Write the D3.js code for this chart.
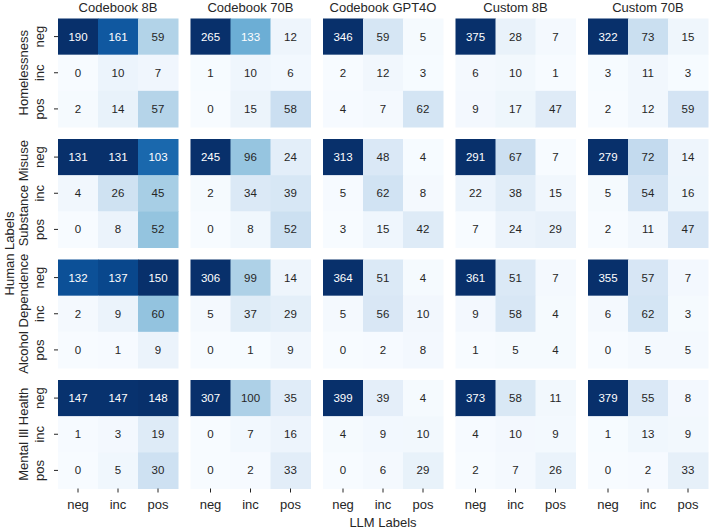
<!DOCTYPE html>
<html>
<head>
<meta charset="utf-8">
<script src="https://cdn.jsdelivr.net/npm/d3@7"></script>
<style>
  body { margin: 0; background: #fff; }
  text { font-family: "Liberation Sans", Arial, sans-serif; }
</style>
</head>
<body>
<div id="chart"></div>
<script>
// labels
var labels = ["neg", "inc", "pos"];
var models = ["Codebook 8B", "Codebook 70B", "Codebook GPT4O", "Custom 8B", "Custom 70B"];
var topics = ["Homelessness", "Substance Misuse", "Alcohol Dependence", "Mental Ill Health"];

// confusion matrices, rows = human label, cols = LLM label, one per model
var homelessness = [
  [[190, 161, 59], [0, 10, 7], [2, 14, 57]],
  [[265, 133, 12], [1, 10, 6], [0, 15, 58]],
  [[346, 59, 5], [2, 12, 3], [4, 7, 62]],
  [[375, 28, 7], [6, 10, 1], [9, 17, 47]],
  [[322, 73, 15], [3, 11, 3], [2, 12, 59]]
];
var substance = [
  [[131, 131, 103], [4, 26, 45], [0, 8, 52]],
  [[245, 96, 24], [2, 34, 39], [0, 8, 52]],
  [[313, 48, 4], [5, 62, 8], [3, 15, 42]],
  [[291, 67, 7], [22, 38, 15], [7, 24, 29]],
  [[279, 72, 14], [5, 54, 16], [2, 11, 47]]
];
var alcohol = [
  [[132, 137, 150], [2, 9, 60], [0, 1, 9]],
  [[306, 99, 14], [5, 37, 29], [0, 1, 9]],
  [[364, 51, 4], [5, 56, 10], [0, 2, 8]],
  [[361, 51, 7], [9, 58, 4], [1, 5, 4]],
  [[355, 57, 7], [6, 62, 3], [0, 5, 5]]
];
var mental = [
  [[147, 147, 148], [1, 3, 19], [0, 5, 30]],
  [[307, 100, 35], [0, 7, 16], [0, 2, 33]],
  [[399, 39, 4], [4, 9, 10], [0, 6, 29]],
  [[373, 58, 11], [4, 10, 9], [2, 7, 26]],
  [[379, 55, 8], [1, 13, 9], [0, 2, 33]]
];
var allData = [homelessness, substance, alcohol, mental];

var svgWidth = 709;
var svgHeight = 531;
var marginLeft = 58, marginTop = 18.5;
var panelW = 120, panelH = 108.5;
var gapX = 12.5, gapY = 12;

var svg = d3.select("#chart").append("svg")
  .attr("width", svgWidth)
  .attr("height", svgHeight);

// panel scales
var colScale = d3.scaleBand().domain(d3.range(models.length))
  .range([marginLeft, marginLeft + models.length * panelW + (models.length - 1) * gapX])
  .paddingInner(gapX / (panelW + gapX));
var rowScale = d3.scaleBand().domain(d3.range(topics.length))
  .range([marginTop, marginTop + topics.length * panelH + (topics.length - 1) * gapY])
  .paddingInner(gapY / (panelH + gapY));

var x = d3.scaleBand().domain(labels).range([0, panelW]);
var y = d3.scaleBand().domain(labels).range([0, panelH]);

// seaborn-style text colour from luminance
function textColor(c) {
  var rgb = d3.rgb(c);
  var lin = [rgb.r, rgb.g, rgb.b].map(function(v) {
    v = v / 255;
    return v <= 0.03928 ? v / 12.92 : Math.pow((v + 0.055) / 1.055, 2.4);
  });
  var lum = 0.2126 * lin[0] + 0.7152 * lin[1] + 0.0722 * lin[2];
  return lum > 0.408 ? "#262626" : "#ffffff";
}

allData.forEach(function(topicData, ti) {
  topicData.forEach(function(mat, mi) {
    var flat = d3.merge(mat);
    var color = d3.scaleSequential(d3.interpolateBlues)
      .domain([d3.min(flat), d3.max(flat)]);

    var g = svg.append("g")
      .attr("transform", `translate(${colScale(mi)}, ${rowScale(ti)})`);

    var cells = [];
    mat.forEach(function(row, r) {
      row.forEach(function(v, c) {
        cells.push({ r: labels[r], c: labels[c], v: v });
      });
    });

    g.selectAll("rect")
      .data(cells)
      .enter()
      .append("rect")
      .attr("x", d => x(d.c))
      .attr("y", d => y(d.r))
      .attr("width", x.bandwidth() + 0.5)
      .attr("height", y.bandwidth() + 0.5)
      .attr("fill", d => color(d.v));

    g.selectAll("text.val")
      .data(cells)
      .enter()
      .append("text")
      .attr("class", "val")
      .attr("x", d => x(d.c) + x.bandwidth() / 2)
      .attr("y", d => y(d.r) + y.bandwidth() / 2)
      .attr("dy", "0.35em")
      .attr("text-anchor", "middle")
      .attr("font-size", 11.5)
      .attr("fill", d => textColor(color(d.v)))
      .text(d => d.v);

    // column titles
    if (ti === 0) {
      g.append("text")
        .attr("x", panelW / 2)
        .attr("y", -7)
        .attr("text-anchor", "middle")
        .attr("font-size", 13)
        .attr("fill", "#262626")
        .text(models[mi]);
    }

    // y axis on first column
    if (mi === 0) {
      var yAxis = g.append("g").call(d3.axisLeft(y).tickSize(4).tickFormat(""));
      yAxis.select(".domain").remove();
      yAxis.selectAll("line").attr("stroke", "#262626");
      g.selectAll("text.ylab")
        .data(labels)
        .enter()
        .append("text")
        .attr("class", "ylab")
        .attr("transform", d => `translate(-14, ${y(d) + y.bandwidth() / 2}) rotate(-90)`)
        .attr("text-anchor", "middle")
        .attr("font-size", 13)
        .attr("fill", "#262626")
        .text(d => d);
      g.append("text")
        .attr("transform", `translate(-30, ${panelH / 2}) rotate(-90)`)
        .attr("text-anchor", "middle")
        .attr("font-size", 13)
        .attr("fill", "#262626")
        .text(topics[ti]);
    }

    // x axis on bottom row
    if (ti === topics.length - 1) {
      var xAxis = g.append("g")
        .attr("transform", `translate(0, ${panelH})`)
        .call(d3.axisBottom(x).tickSize(4).tickPadding(7));
      xAxis.select(".domain").remove();
      xAxis.selectAll("line").attr("stroke", "#262626");
      xAxis.selectAll("text")
        .attr("font-size", 13)
        .attr("fill", "#262626");
    }
  });
});

// overall axis titles
svg.append("text")
  .attr("x", (colScale(0) + colScale(models.length - 1) + panelW) / 2)
  .attr("y", 527)
  .attr("text-anchor", "middle")
  .attr("font-size", 13)
  .attr("fill", "#262626")
  .text("LLM Labels");

svg.append("text")
  .attr("transform", `translate(14, ${(rowScale(0) + rowScale(topics.length - 1) + panelH) / 2}) rotate(-90)`)
  .attr("text-anchor", "middle")
  .attr("font-size", 13)
  .attr("fill", "#262626")
  .text("Human Labels");
</script>
</body>
</html>
